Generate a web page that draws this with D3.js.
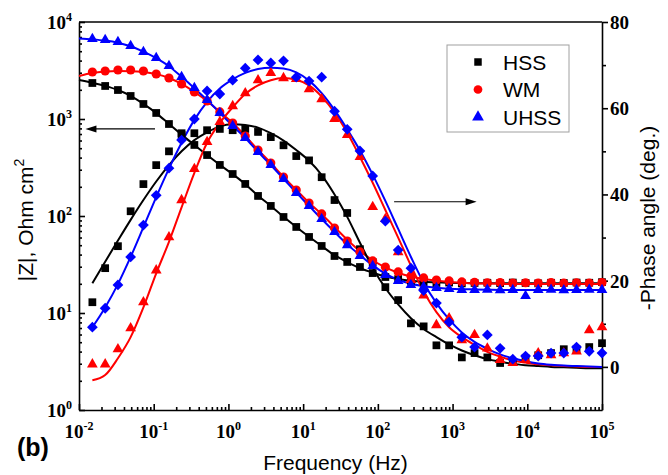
<!DOCTYPE html>
<html>
<head>
<meta charset="utf-8">
<script src="https://cdn.jsdelivr.net/npm/d3@7"></script>
<style>
  body { margin: 0; background: #fff; }
  .axis path, .axis line { stroke: #000; stroke-width: 1.6; }
</style>
</head>
<body>
<div id="chart"></div>
<script>
// measured frequencies (Hz)
const freq = [0.0151, 0.0224, 0.0332, 0.0491, 0.0728, 0.108, 0.160, 0.236, 0.350, 0.518,
  0.767, 1.14, 1.68, 2.49, 3.69, 5.46, 8.09, 12.0, 17.7, 26.3,
  38.9, 57.6, 85.3, 126, 187, 277, 410, 608, 899, 1330,
  1970, 2920, 4330, 6400, 9480, 14000, 20800, 30800, 45600, 67500, 100000];
// fit curves for |Z| reach down to 0.01 Hz
const zFitFreq = [0.01].concat(freq);

// |Z| (Ohm cm2)
const hssZ = [2350, 2190, 1990, 1727, 1428, 1154, 888, 684, 540, 425,
  336, 271, 214, 161, 127, 97.7, 77.1, 60.8, 49.1, 38.7,
  33.6, 29.8, 25.8, 23.5, 22.4, 21.4, 20.9, 20.4, 20.6, 20.2,
  20.4, 20.5, 20.3, 20.6, 20.4, 20.2, 20.5, 20.4, 20.6, 20.5, 20.8];
const wmZ = [3054, 3125, 3200, 3200, 3125, 2912, 2649, 2297, 1898, 1534,
  1182, 910, 668, 479, 352, 252, 185, 136, 105, 75.2,
  55.2, 42.6, 34.4, 29.8, 26.5, 24.1, 23.0, 21.9, 21.4, 20.9,
  20.7, 20.5, 20.6, 20.4, 20.5, 20.4, 20.6, 20.3, 20.5, 20.4, 20.6];
const uhssZ = [6680, 6520, 6220, 5660, 4910, 4260, 3520, 2710, 2090, 1571,
  1154, 848, 637, 457, 336, 241, 173, 127, 93.1, 68.4,
  50.2, 38.7, 30.5, 24.7, 21.4, 19.5, 18.6, 18.1, 17.7, 17.3,
  17.3, 17.4, 17.2, 17.3, 15.0, 17.3, 17.4, 17.2, 17.3, 17.4, 17.3];

const hssZFit = [2520, 2360, 2190, 1990, 1730, 1430, 1150, 890, 690, 540,
  425, 337, 270, 213, 162, 127, 98, 77, 61, 49,
  39.5, 33.5, 29, 26, 23.8, 22.4, 21.5, 21, 20.7, 20.5,
  20.4, 20.3, 20.3, 20.3, 20.3, 20.3, 20.3, 20.3, 20.3, 20.3, 20.3, 20.3];
const wmZFit = [2775, 2980, 3080, 3120, 3110, 3050, 2900, 2650, 2300, 1900,
  1530, 1180, 910, 670, 480, 352, 253, 186, 137, 104,
  77, 57, 43.5, 35, 29.5, 26, 23.8, 22.4, 21.5, 20.9,
  20.5, 20.2, 20.1, 20, 19.9, 19.9, 19.9, 19.9, 19.9, 19.9, 19.9, 19.9];
const uhssZFit = [6750, 6620, 6430, 6120, 5620, 4950, 4240, 3500, 2720, 2080,
  1570, 1160, 850, 637, 458, 336, 242, 174, 127, 93,
  68.5, 51, 39.5, 31, 25.5, 22, 20, 18.9, 18.2, 17.8,
  17.6, 17.5, 17.4, 17.3, 17.3, 17.3, 17.3, 17.3, 17.3, 17.3, 17.3, 17.3];

// -phase angle (deg.)
const hssPhase = [15.0, 22.9, 28.0, 36.1, 42.4, 46.8, 50.0, 54.2, 54.2, 54.9,
  55.2, 54.9, 55.2, 54.5, 53.3, 51.4, 48.9, 47.9, 44.0, 38.7,
  35.7, 27.3, 24.3, 18.5, 15.5, 10.1, 9.4, 5.0, 5.0, 2.2,
  3.2, 2.2, 0.9, 1.1, 2.0, 2.7, 3.2, 4.1, 4.1, 4.6, 5.5];
const wmPhase = [0.6, 0.6, 4.1, 9.0, 15.0, 22.4, 30.1, 38.7, 45.9, 52.2,
  56.8, 60.5, 63.5, 66.5, 68.2, 67.0, 66.8, 64.4, 62.1, 57.5,
  53.8, 48.7, 37.1, 34.3, 26.6, 20.2, 16.6, 9.7, 11.3, 6.2,
  7.4, 4.3, 1.6, 0.9, 1.6, 3.2, 2.7, 3.2, 3.6, 8.5, 9.2];
const uhssPhase = [9.2, 13.6, 19.0, 25.5, 32.9, 39.8, 46.1, 52.6, 57.5, 64.0,
  63.3, 66.5, 69.3, 71.2, 70.5, 71.0, 67.2, 66.3, 67.2, 59.3,
  55.1, 50.1, 44.3, 33.8, 27.1, 22.9, 17.7, 14.8, 10.4, 6.9,
  4.6, 7.4, 4.3, 1.8, 2.5, 2.5, 3.2, 3.2, 4.6, 3.6, 3.2];

const hssPhaseFit = [19.4, 24.4, 29.3, 34.1, 38.7, 43.0, 46.8, 50.0, 52.6, 54.4,
  55.8, 56.3, 56.1, 55.5, 54.2, 52.5, 50.3, 47.8, 44.5, 40.0,
  34.8, 28.8, 23.0, 18.3, 14.5, 11.3, 8.8, 6.9, 5.2, 3.8,
  2.7, 1.8, 1.2, 0.7, 0.4, 0.2, 0.0, -0.1, -0.2, -0.3, -0.3];
const wmPhaseFit = [-3.1, -1.9, 2.0, 6.9, 13.8, 21.7, 29.0, 37.0, 45.0, 52.0,
  56.6, 60.2, 63.3, 65.3, 66.5, 67.0, 66.6, 65.3, 62.7, 59.0,
  54.3, 48.7, 42.7, 36.4, 30.0, 23.5, 17.5, 12.7, 9.2, 6.9,
  5.1, 3.5, 2.4, 1.5, 1.0, 0.6, 0.4, 0.2, 0.1, 0.0, 0.0];
const uhssPhaseFit = [9.2, 13.8, 19.2, 25.5, 32.4, 39.4, 46.0, 52.0, 57.3, 61.5,
  64.6, 66.7, 68.2, 69.1, 69.4, 69.2, 68.3, 66.4, 63.5, 59.6,
  55.1, 50.2, 44.6, 38.5, 32.0, 25.5, 19.5, 14.8, 11.0, 8.0,
  5.8, 4.2, 2.9, 2.0, 1.3, 0.8, 0.5, 0.3, 0.2, 0.1, 0.0];

const xExponents = [-2, -1, 0, 1, 2, 3, 4, 5];
const zExponents = [0, 1, 2, 3, 4];
const phaseTicks = [0, 20, 40, 60, 80];
const phaseMinorTicks = [10, 30, 50, 70];
const legendLabels = ["HSS", "WM", "UHSS"];
const colors = ["#000000", "#ff0000", "#0000ff"];

// arrows: [freq, value] start -> end
const arrowZ = [[0.104, 790], [0.0122, 790]];
const arrowPhase = [[165, 38.3], [2100, 38.3]];

const width = 668, height = 475;
const plot = { left: 79, right: 602, top: 22, bottom: 410 };
const serif = "'Liberation Serif', 'Times New Roman', serif";
const sans = "'Liberation Sans', Arial, sans-serif";

const svg = d3.select("#chart").append("svg")
  .attr("width", width).attr("height", height);

const x = d3.scaleLog().domain([1e-2, 1e5]).range([plot.left, plot.right]);
const yZ = d3.scaleLog().domain([1, 1e4]).range([plot.bottom, plot.top]);
const yP = d3.scaleLinear().domain([-10, 80]).range([plot.bottom, plot.top]);

const isMajor = v => Math.abs(Math.log10(v) - Math.round(Math.log10(v))) < 1e-6;

// bottom axis
const gx = svg.append("g").attr("class", "axis")
  .attr("transform", `translate(0,${plot.bottom})`);
gx.call(d3.axisBottom(x).tickValues(xExponents.map(e => 10 ** e))
  .tickSize(-6).tickSizeOuter(0).tickFormat(""));
gx.append("g").call(d3.axisBottom(x).tickValues(x.ticks().filter(v => !isMajor(v)))
  .tickSize(-3).tickSizeOuter(0).tickFormat(""))
  .select(".domain").remove();

// left axis
const gy = svg.append("g").attr("class", "axis")
  .attr("transform", `translate(${plot.left},0)`);
gy.call(d3.axisLeft(yZ).tickValues(zExponents.map(e => 10 ** e))
  .tickSize(-6).tickSizeOuter(0).tickFormat(""));
gy.append("g").call(d3.axisLeft(yZ).tickValues(yZ.ticks().filter(v => !isMajor(v)))
  .tickSize(-3).tickSizeOuter(0).tickFormat(""))
  .select(".domain").remove();

// right axis
const gr = svg.append("g").attr("class", "axis")
  .attr("transform", `translate(${plot.right},0)`);
gr.call(d3.axisRight(yP).tickValues(phaseTicks).tickSize(6).tickSizeOuter(0).tickPadding(2));
gr.append("g").call(d3.axisRight(yP).tickValues(phaseMinorTicks).tickSize(4).tickFormat(""))
  .select(".domain").remove();
gr.selectAll("text")
  .attr("font-family", serif).attr("font-weight", "bold").attr("font-size", 19)
  .attr("fill", "#000").attr("dy", "0.34em");

// top border
svg.append("line")
  .attr("x1", plot.left).attr("x2", plot.right)
  .attr("y1", plot.top).attr("y2", plot.top)
  .attr("stroke", "#000").attr("stroke-width", 1.6);

// power-of-ten labels
function powerLabel(g, e) {
  g.append("tspan").text("10");
  g.append("tspan").attr("dy", -8).attr("font-size", 12).text(e);
}
xExponents.forEach(e => {
  const t = svg.append("text")
    .attr("x", x(10 ** e)).attr("y", plot.bottom + 28)
    .attr("text-anchor", "middle")
    .attr("font-family", serif).attr("font-weight", "bold").attr("font-size", 19);
  powerLabel(t, e);
});
zExponents.forEach(e => {
  const t = svg.append("text")
    .attr("x", plot.left - 7).attr("y", yZ(10 ** e) + 7)
    .attr("text-anchor", "end")
    .attr("font-family", serif).attr("font-weight", "bold").attr("font-size", 19);
  powerLabel(t, e);
});

// axis titles
svg.append("text")
  .attr("x", (plot.left + plot.right) / 2 - 5).attr("y", 470)
  .attr("text-anchor", "middle")
  .attr("font-family", sans).attr("font-size", 21)
  .text("Frequency (Hz)");

const zTitle = svg.append("text")
  .attr("transform", "translate(33,220) rotate(-90)")
  .attr("text-anchor", "middle")
  .attr("font-family", sans).attr("font-size", 21);
zTitle.append("tspan").text("|Z|, Ohm cm");
zTitle.append("tspan").attr("dy", -9).attr("font-size", 14).text("2");

svg.append("text")
  .attr("transform", "translate(655,218) rotate(-90)")
  .attr("text-anchor", "middle")
  .attr("font-family", sans).attr("font-size", 21)
  .text("-Phase angle (deg.)");

svg.append("text")
  .attr("x", 17).attr("y", 456)
  .attr("font-family", sans).attr("font-weight", "bold").attr("font-size", 25)
  .text("(b)");

// fit lines
const zLine = d3.line().x(d => x(d[0])).y(d => yZ(d[1])).curve(d3.curveMonotoneX);
const pLine = d3.line().x(d => x(d[0])).y(d => yP(d[1])).curve(d3.curveMonotoneX);

[hssZFit, wmZFit, uhssZFit].forEach((fit, i) => {
  svg.append("path")
    .datum(zFitFreq.map((f, j) => [f, fit[j]]))
    .attr("fill", "none").attr("stroke", colors[i]).attr("stroke-width", 2)
    .attr("d", zLine);
});
[hssPhaseFit, wmPhaseFit, uhssPhaseFit].forEach((fit, i) => {
  svg.append("path")
    .datum(freq.map((f, j) => [f, fit[j]]))
    .attr("fill", "none").attr("stroke", colors[i]).attr("stroke-width", 2)
    .attr("d", pLine);
});

// markers
const sq = d3.symbol().type(d3.symbolSquare).size(60)();
const circ = d3.symbol().type(d3.symbolCircle).size(66)();
const tri = d3.symbol().type(d3.symbolTriangle).size(50)();
const dia = d3.symbol().type(d3.symbolSquare).size(58)();

function markers(values, yScale, shape, color, rotate) {
  svg.append("g").selectAll("path")
    .data(freq.map((f, j) => [f, values[j]]))
    .enter().append("path")
    .attr("d", shape)
    .attr("fill", color)
    .attr("transform", d => `translate(${x(d[0])},${yScale(d[1])})${rotate ? " rotate(45)" : ""}`);
}
markers(hssZ, yZ, sq, colors[0]);
markers(hssPhase, yP, sq, colors[0]);
markers(wmZ, yZ, circ, colors[1]);
markers(wmPhase, yP, tri, colors[1]);
markers(uhssZ, yZ, tri, colors[2]);
markers(uhssPhase, yP, dia, colors[2], true);

// arrows
function arrow(pts, yScale) {
  const x1 = x(pts[0][0]), y1 = yScale(pts[0][1]);
  const x2 = x(pts[1][0]), y2 = yScale(pts[1][1]);
  const dir = Math.sign(x2 - x1);
  svg.append("line")
    .attr("x1", x1).attr("y1", y1).attr("x2", x2 - dir * 8).attr("y2", y2)
    .attr("stroke", "#000").attr("stroke-width", 1.2);
  svg.append("path")
    .attr("d", `M${x2},${y2}L${x2 - dir * 11},${y2 - 3.5}L${x2 - dir * 11},${y2 + 3.5}Z`)
    .attr("fill", "#000");
}
arrow(arrowZ, yZ);
arrow(arrowPhase, yP);

// legend
const legend = svg.append("g");
legend.append("rect")
  .attr("x", 447).attr("y", 45).attr("width", 122).attr("height", 87)
  .attr("fill", "#fff").attr("stroke", "#a0a0a0").attr("stroke-width", 1);
const legendShapes = [
  d3.symbol().type(d3.symbolSquare).size(56)(),
  d3.symbol().type(d3.symbolCircle).size(60)(),
  d3.symbol().type(d3.symbolTriangle).size(60)()
];
legendLabels.forEach((label, i) => {
  const cy = 62 + i * 27.5;
  legend.append("path")
    .attr("d", legendShapes[i]).attr("fill", colors[i])
    .attr("transform", `translate(478,${cy})`);
  legend.append("text")
    .attr("x", 503).attr("y", cy + 7.5)
    .attr("font-family", sans).attr("font-size", 21)
    .text(label);
});
</script>
</body>
</html>
